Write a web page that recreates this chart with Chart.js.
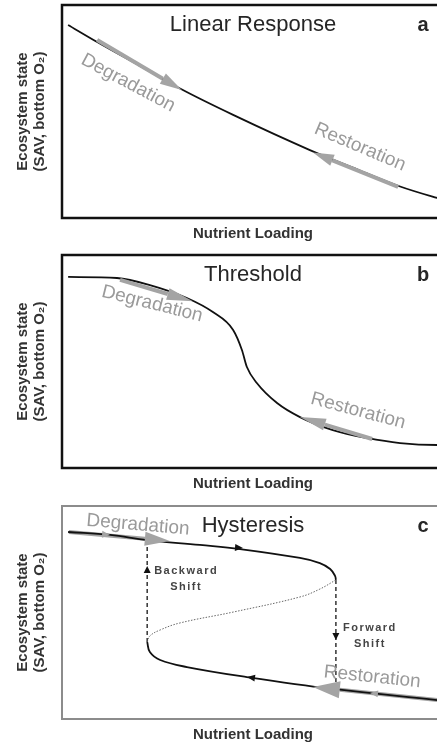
<!DOCTYPE html>
<html>
<head>
<meta charset="utf-8">
<script src="https://cdn.jsdelivr.net/npm/chart.js@4.4.1/dist/chart.umd.min.js"></script>
<style>
  body { margin: 0; background: #fff; }
  #figure { position: relative; width: 437px; height: 744px; overflow: hidden; background: #fff; }
  #figure canvas { position: absolute; left: 0; }
</style>
</head>
<body>
<div id="figure">
  <canvas id="panelA" width="448" height="250" style="top:0"></canvas>
  <canvas id="panelB" width="448" height="250" style="top:250px"></canvas>
  <canvas id="panelC" width="448" height="250" style="top:501px"></canvas>
</div>
<script>
const FONT = '"Liberation Sans", Arial, sans-serif';
const GRAY = '#a4a4a4';
const GRAY_TEXT = '#9a9a9a';

// a: linear response (x = nutrient loading, y = ecosystem state, both 0-100)
const linearCurve = [[1.6, 90.6], [9.2, 82.6], [20.4, 71.4], [31.4, 60.3], [44.8, 48.4],
  [64.9, 31.9], [78.0, 22.3], [88.5, 14.8], [98.2, 9.4], [100, 8.5]];
const linearDegradation = [[9.2, 83.6], [26.4, 65.4]];
const linearRestoration = [[88.0, 14.6], [70.8, 27.1]];

// b: threshold
const thresholdCurve = [[1.6, 89.7], [14.4, 89.2], [23.0, 85.9], [32.7, 79.8], [39.5, 73.2],
  [44.8, 64.8], [47.1, 55.4], [48.4, 47.4], [51.0, 39.9], [56.3, 30.5], [62.3, 23.9],
  [70.9, 17.8], [79.8, 14.1], [88.5, 11.7], [98.2, 10.8], [100, 10.8]];
const thresholdDegradation = [[15.2, 88.3], [27.7, 81.7]];
const thresholdRestoration = [[81.2, 13.6], [68.8, 20.4]];

// c: hysteresis
const upperBranch = [[1.6, 87.8], [12.6, 86.4], [22.3, 84.0], [36.1, 81.7], [46.6, 79.8],
  [62.3, 75.6], [67.5, 73.2], [70.2, 70.4], [71.5, 67.1], [71.7, 65.3]];
const middleBranch = [[71.7, 65.3], [67.5, 61.0], [62.3, 57.3], [44.8, 50.2], [30.9, 45.1],
  [25.7, 41.8], [23.0, 39.0], [22.3, 36.2]];
const lowerBranch = [[22.3, 36.2], [23.0, 31.5], [25.7, 27.7], [32.7, 24.4], [48.4, 19.7],
  [70.9, 14.1], [98.2, 8.9], [100, 8.5]];
const backwardShift = [[22.3, 36.2], [22.3, 84.0]];
const forwardShift = [[71.7, 65.3], [71.7, 13.6]];
const hystDegradation = [[1.8, 87.8], [21.7, 84.6]];
const hystRestoration = [[98.2, 8.9], [72.7, 13.7]];
// direction ticks along the paths: [from, to]
const upperTick = [[36.1, 81.7], [45.3, 80.5]];
const lowerTick = [[70.9, 14.1], [50.5, 19.2]];
const backwardTick = [[22.3, 60.0], [22.3, 68.5]];
const forwardTick = [[71.7, 50.0], [71.7, 40.4]];
const degradationTick = [[1.8, 87.8], [10.5, 86.7]];
const restorationTick = [[98.2, 8.9], [82.7, 11.8]];

const xy = pts => pts.map(([x, y]) => ({ x, y }));

const curve = (pts, extra = {}) => ({
  data: xy(pts), borderColor: '#111', borderWidth: 1.8, tension: 0.4, ...extra,
});
const arrow = (pts, head, color = GRAY) => ({
  data: xy(pts), borderColor: color, borderWidth: 4, borderCapStyle: 'butt', head, headColor: color,
});
const tick = (pts, head, color) => ({
  data: xy(pts), showLine: false, head, headColor: color,
});

// arrowhead drawn past the last point of a dataset, pointing along its last segment
const arrowHeads = {
  id: 'arrowHeads',
  afterDatasetsDraw(chart) {
    const ctx = chart.ctx;
    chart.data.datasets.forEach((ds, i) => {
      if (!ds.head) return;
      const pts = chart.getDatasetMeta(i).data;
      const a = pts[pts.length - 2], b = pts[pts.length - 1];
      const [len, half] = ds.head;
      ctx.save();
      ctx.translate(b.x, b.y);
      ctx.rotate(Math.atan2(b.y - a.y, b.x - a.x));
      ctx.beginPath();
      ctx.moveTo(len, 0);
      ctx.lineTo(0, -half);
      ctx.lineTo(0, half);
      ctx.closePath();
      ctx.fillStyle = ds.headColor;
      ctx.fill();
      ctx.restore();
    });
  }
};

const frame = {
  id: 'frame',
  afterDatasetsDraw(chart, args, opts) {
    const { ctx, chartArea: a } = chart;
    ctx.save();
    ctx.strokeStyle = opts.color;
    ctx.lineWidth = opts.width;
    ctx.strokeRect(a.left, a.top, a.right - a.left, a.bottom - a.top);
    ctx.restore();
  }
};

const notes = {
  id: 'notes',
  afterDraw(chart, args, opts) {
    const { ctx, chartArea: a, scales: { x, y } } = chart;
    ctx.save();
    ctx.textAlign = 'center';
    ctx.textBaseline = 'middle';
    ctx.fillStyle = '#262626';
    ctx.font = `22px ${FONT}`;
    ctx.fillText(opts.title, (a.left + a.right) / 2, a.top + 20);
    ctx.font = `bold 20px ${FONT}`;
    ctx.fillText(opts.letter, a.right - 21, a.top + 20);
    opts.items.forEach(n => {
      ctx.save();
      ctx.translate(x.getPixelForValue(n.x), y.getPixelForValue(n.y));
      ctx.rotate(n.angle * Math.PI / 180);
      ctx.font = n.font;
      ctx.fillStyle = n.color;
      ctx.letterSpacing = n.spacing || '0px';
      const lines = [].concat(n.text);
      lines.forEach((t, k) => ctx.fillText(t, 0, (k - (lines.length - 1) / 2) * (n.lineHeight || 0)));
      ctx.restore();
    });
    ctx.restore();
  }
};

const grayNote = (text, x, y, angle) => ({ text, x, y, angle, font: `19px ${FONT}`, color: GRAY_TEXT });
const shiftNote = (text, x, y) => ({
  text, x, y, angle: 0, font: `bold 11px ${FONT}`, color: '#444', spacing: '1.5px', lineHeight: 16,
});

const axisFont = { family: FONT, size: 15, weight: 'bold', lineHeight: '17px' };

const makeChart = (id, datasets, title, letter, items, frameColor, frameWidth) => new Chart(document.getElementById(id), {
  type: 'line',
  data: { datasets },
  options: {
    responsive: false,
    animation: false,
    events: [],
    layout: { padding: { top: 5, right: 4, bottom: 0, left: 0 }, autoPadding: false },
    elements: { point: { radius: 0, hoverRadius: 0 } },
    scales: {
      x: {
        type: 'linear', min: 0, max: 100,
        ticks: { display: false }, grid: { display: false }, border: { display: false },
        title: { display: true, text: 'Nutrient Loading', color: '#333', font: { ...axisFont, lineHeight: '16px' }, padding: { top: 0, bottom: 8 } },
        afterFit: s => { s.height = 32; },
      },
      y: {
        type: 'linear', min: 0, max: 100,
        ticks: { display: false }, grid: { display: false }, border: { display: false },
        title: { display: true, text: ['Ecosystem state', '(SAV, bottom O₂)'], color: '#333', font: axisFont, padding: { top: 14, bottom: 0 } },
        afterFit: s => { s.width = 62; },
      },
    },
    plugins: {
      legend: { display: false },
      tooltip: { enabled: false },
      frame: { color: frameColor, width: frameWidth },
      notes: { title, letter, items },
    },
  },
  plugins: [arrowHeads, frame, notes],
});

makeChart('panelA', [
  arrow(linearDegradation, [22, 6]),
  arrow(linearRestoration, [21, 6]),
  curve(linearCurve, { cubicInterpolationMode: 'monotone' }),
], 'Linear Response', 'a', [
  grayNote('Degradation', 17.3, 63.4, 28),
  grayNote('Restoration', 78.0, 33.3, 23),
], '#111', 2.5);

makeChart('panelB', [
  arrow(thresholdDegradation, [26, 6]),
  arrow(thresholdRestoration, [26, 6]),
  curve(thresholdCurve, { cubicInterpolationMode: 'monotone' }),
], 'Threshold', 'b', [
  grayNote('Degradation', 23.6, 77.0, 14),
  grayNote('Restoration', 77.5, 26.8, 15),
], '#111', 2.5);

makeChart('panelC', [
  curve(upperBranch),
  curve(lowerBranch),
  curve(middleBranch, { borderColor: '#666', borderWidth: 1, borderDash: [1.5, 1.5] }),
  curve(backwardShift, { borderColor: '#333', borderWidth: 1.5, borderDash: [4, 3], tension: 0 }),
  curve(forwardShift, { borderColor: '#333', borderWidth: 1.5, borderDash: [4, 3], tension: 0 }),
  arrow(hystDegradation, [25, 7]),
  arrow(hystRestoration, [27, 8.5]),
  tick(degradationTick, [8, 3.5], GRAY),
  tick(restorationTick, [8, 3.5], GRAY),
  tick(upperTick, [8, 3.5], '#111'),
  tick(lowerTick, [8, 3.5], '#111'),
  tick(backwardTick, [7, 3.5], '#111'),
  tick(forwardTick, [7, 3.5], '#111'),
], 'Hysteresis', 'c', [
  grayNote('Degradation', 19.9, 91.1, 5),
  grayNote('Restoration', 81.2, 19.7, 6),
  shiftNote(['Backward', 'Shift'], 32.5, 65.7),
  shiftNote(['Forward', 'Shift'], 80.6, 39.0),
], '#8c8c8c', 2);
</script>
</body>
</html>
